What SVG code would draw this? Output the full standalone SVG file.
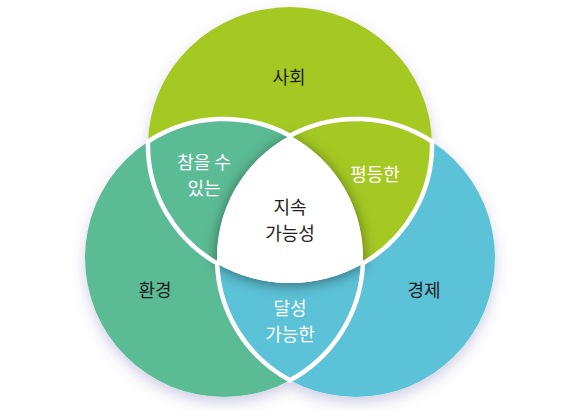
<svg xmlns="http://www.w3.org/2000/svg" width="588" height="410" viewBox="0 0 588 410">
<defs>
<style>
.lbl{font-family:"Noto Sans CJK KR","Noto Sans",sans-serif;font-size:18px;text-anchor:middle}
.dark{fill:#231f20}
.light{fill:#ffffff}
.green{fill:#a5c823}
.teal{fill:#5bbb94}
.blue{fill:#5cc2d7}
.outline{fill:none;stroke:#ffffff;stroke-width:4.5;stroke-linejoin:miter}
</style>
<filter id="outer" x="-20%" y="-20%" width="140%" height="140%">
<feDropShadow dx="0" dy="6" stdDeviation="7" flood-color="#5a55a0" flood-opacity="0.28"/>
</filter>
<filter id="inner" x="-30%" y="-30%" width="160%" height="160%">
<feDropShadow dx="0" dy="2" stdDeviation="7" flood-color="#000000" flood-opacity="0.45"/>
</filter>
<ellipse id="cT" cx="290" cy="145" rx="142" ry="138"/>
<circle id="cL" cx="224" cy="258" r="139"/>
<circle id="cR" cx="356" cy="258" r="139"/>
</defs>

<g id="shadow" filter="url(#outer)" fill="#ffffff">
<use href="#cT"/><use href="#cL"/><use href="#cR"/>
</g>

<g id="environment">
<use href="#cL" class="teal"/>
<text class="lbl dark" x="155" y="296.6">환경</text>
</g>
<g id="economy">
<use href="#cR" class="blue"/>
<text class="lbl dark" x="424" y="296.6">경제</text>
</g>
<g id="society">
<use href="#cT" class="green"/>
<text class="lbl dark" x="289" y="83.6">사회</text>
</g>

<g id="bearable">
<path class="teal" d="M148,141.6 A139,139 0 0 1 362.9,263.4 A142,138 0 0 1 148,141.6 Z"/>
</g>
<g id="equitable">
<path class="green" d="M217.1,263.4 A139,139 0 0 1 432,141.6 A142,138 0 0 1 217.1,263.4 Z"/>
</g>
<g id="viable">
<path class="blue" d="M290,135.67 A139,139 0 0 0 290,380.33 A139,139 0 0 0 290,135.67 Z"/>
</g>

<g id="sustainable">
<path fill="#ffffff" filter="url(#inner)" d="M290,135.67 A139,139 0 0 1 362.9,263.4 A142,138 0 0 1 217.1,263.4 A139,139 0 0 1 290,135.67 Z"/>
<path fill="#ffffff" d="M290,135.67 A139,139 0 0 1 362.9,263.4 A142,138 0 0 1 217.1,263.4 A139,139 0 0 1 290,135.67 Z"/>
</g>

<g id="connectors">
<path class="outline" d="M148,141.6 A139,139 0 0 1 290,135.67 A139,139 0 0 1 432,141.6 A142,138 0 0 1 362.9,263.4 A139,139 0 0 1 290,380.33 A139,139 0 0 1 217.1,263.4 A142,138 0 0 1 148,141.6 Z"/>
</g>

<g id="labels">
<text class="lbl light" x="204" y="168.6">참을 수<tspan x="204" dy="26.5">있는</tspan></text>
<text class="lbl light" x="375" y="180.6">평등한</text>
<text class="lbl dark" x="290" y="213.9">지속<tspan x="290" dy="26.5">가능성</tspan></text>
<text class="lbl light" x="290" y="314.9">달성<tspan x="290" dy="26.5">가능한</tspan></text>
</g>
</svg>
